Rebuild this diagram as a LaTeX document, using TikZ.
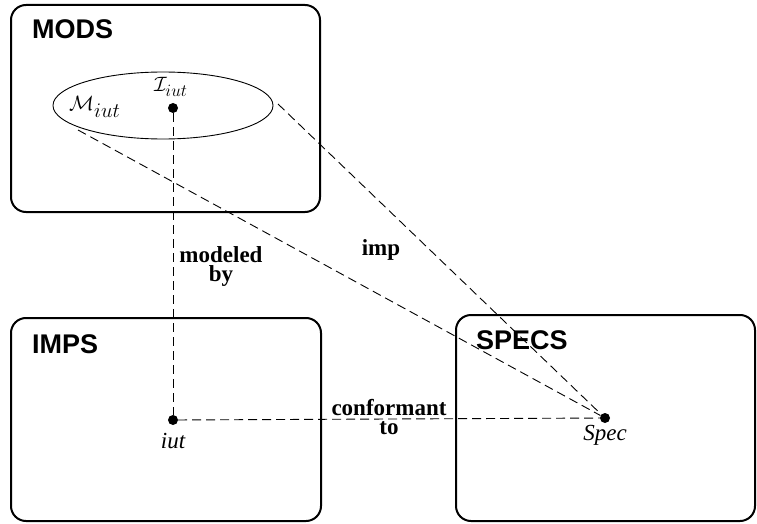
\documentclass[tikz,border=0pt]{standalone}
\usepackage{fontspec}
\setmainfont{Liberation Serif}
\setsansfont{Liberation Sans}
\usetikzlibrary{shapes.geometric}
\begin{document}
\begin{tikzpicture}[x=1pt,y=-1pt,
  panel/.style={draw,line width=2pt,rounded corners=15pt},
  head/.style={font=\sffamily\bfseries\fontsize{27}{27}\selectfont,anchor=base west,inner sep=0pt},
  lab/.style={font=\bfseries\fontsize{23}{19}\selectfont,align=center,inner sep=0pt,anchor=north},
  ilab/.style={font=\itshape\fontsize{23}{23}\selectfont,inner sep=0pt,anchor=base},
  mlab/.style={font=\fontsize{22}{22}\selectfont,inner sep=0pt,anchor=base west},
  dot/.style={circle,fill,inner sep=0pt,minimum size=10pt},
  link/.style={dash pattern=on 9pt off 5pt,line width=0.9pt}]
\useasboundingbox (0,0) rectangle (757,524);
% panels
\draw[panel] (11,5) rectangle (320,212);
\draw[panel] (11,318) rectangle (321,521);
\draw[panel] (456,315) rectangle (755,521);
\node[head] (mods) at (32,39) {MODS};
\node[head] (imps) at (32,353) {IMPS};
\node[head] (specs) at (476,349) {SPECS};
% ellipse
\node[ellipse,draw,line width=0.9pt,minimum width=220pt,minimum height=67pt,inner sep=0pt] (ell) at (163,105.5) {};
\node[dot] (I) at (173,108) {};
\node[dot] (iut) at (173,420) {};
\node[dot] (spec) at (605,418) {};
\node[mlab] (Il) at (154,92) {$\mathcal{I}_{\hbox{\fontsize{17}{17}\selectfont$iut$}}$};
\node[mlab] (Ml) at (69,111) {$\mathcal{M}_{\hbox{\fontsize{22}{22}\selectfont$iut$}}$};
\node[ilab] (iutl) at (173,448) {iut};
\node[ilab] (specl) at (605,440) {Spec};
\coordinate (eL) at (78,130);
\coordinate (eR) at (278,104);
\draw[link] (I) -- (iut);
\draw[link] (iut) -- (spec);
\draw[link] (eL) -- (spec);
\draw[link] (eR) -- (spec);
\node[lab] (mb) at (221,246.5) {modeled\\by};
\node[lab,anchor=base] (imp) at (381,255) {imp};
\node[lab] (ct) at (389,399) {conformant\\to};
\end{tikzpicture}
\end{document}
